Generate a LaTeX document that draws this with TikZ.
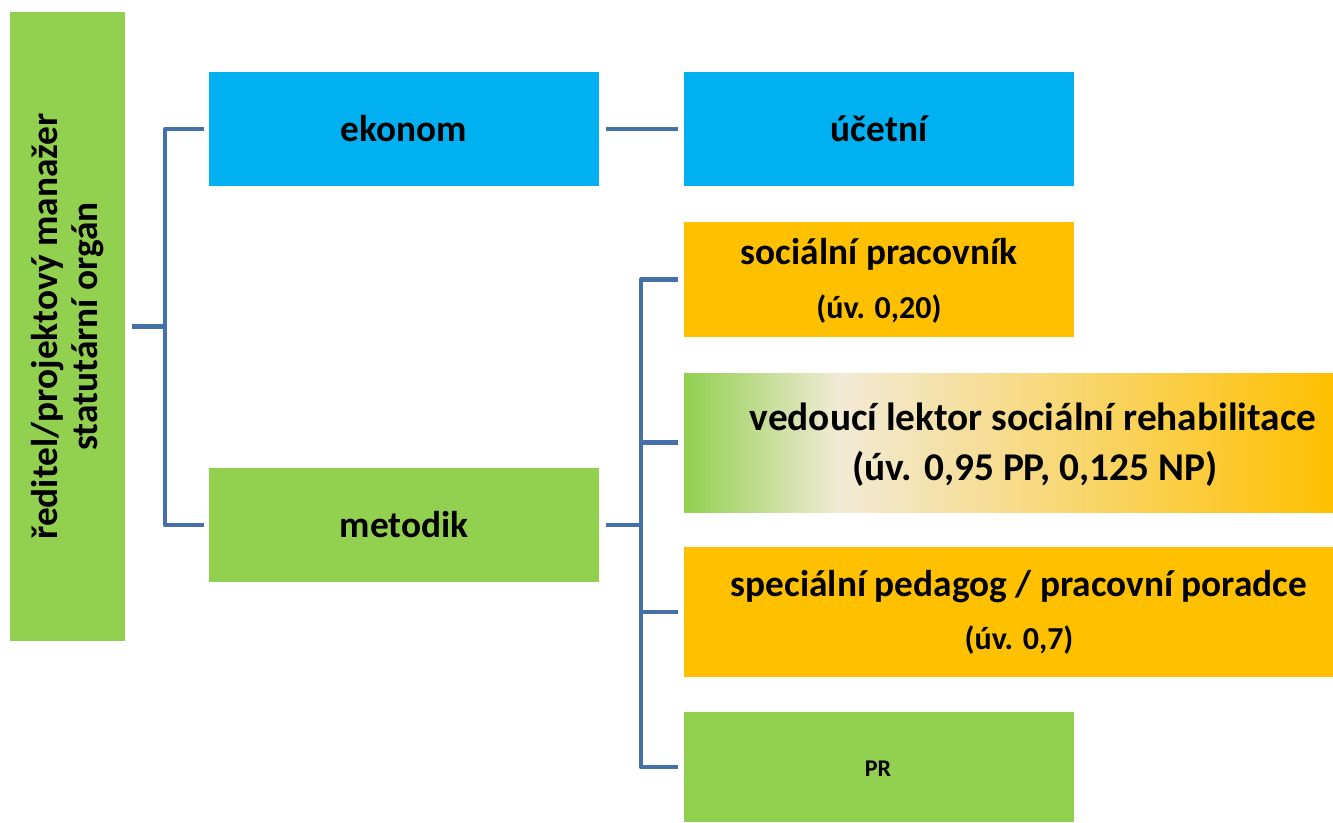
\documentclass[tikz,border=0pt]{standalone}
\usepackage{fontspec}
\setmainfont{Carlito}
\usetikzlibrary{calc}
\definecolor{grn}{HTML}{92D050}
\definecolor{blu}{HTML}{00B0F0}
\definecolor{org}{HTML}{FFC000}
\definecolor{crm}{HTML}{F2EAD6}
\definecolor{lin}{RGB}{70,112,168}
\pgfdeclarehorizontalshading{vgrad}{100bp}{color(0bp)=(grn); color(25bp)=(grn); color(37bp)=(crm); color(75bp)=(org); color(100bp)=(org)}
\begin{document}
\begin{tikzpicture}[x=0.75pt,y=-0.75pt,
  rbox/.style 2 args={rectangle, inner sep=0pt, outer sep=0pt, minimum width=#1*0.75pt, minimum height=#2*0.75pt},
  big/.style={font=\fontsize{28}{30}\selectfont\bfseries},
  vbig/.style={font=\fontsize{29.5}{32}\selectfont\bfseries},
  small/.style={font=\fontsize{24}{28}\selectfont\bfseries},
  conn/.style={draw=lin, line width=3.5pt, line join=round},
  txt/.style={inner sep=0pt, align=center}]
\useasboundingbox (0,0) rectangle (1333,822);
% boxes
\node[rbox={115}{629}, fill=grn] (dir) at (67.5,326.5) {};
\node[rbox={390}{114}, fill=blu] (eko) at (404,129) {};
\node[rbox={390}{114}, fill=blu] (uce) at (879,129) {};
\node[rbox={390}{114}, fill=grn] (met) at (404,525) {};
\node[rbox={390}{115}, fill=org] (soc) at (879,279.5) {};
\node[rbox={649}{139}, shading=vgrad] (ved) at (1008.5,442.5) {};
\node[rbox={649}{130}, fill=org] (spe) at (1008.5,612) {};
\node[rbox={390}{110}, fill=grn] (pr) at (879,767) {};
% texts
\node[txt, big, rotate=90] (dirT) at (dir.center) {ředitel/projektový manažer\\statutární orgán};
\node[txt, big] (ekoT) at (eko.center) {ekonom};
\node[txt, big] (uceT) at (uce.center) {účetní};
\node[txt, big] (metT) at (met.center) {metodik};
\node[txt, big] (socT) at (879,254) {sociální pracovník};
\node[txt, small] (socT2) at (879,309) {(úv. 0,20)};
\node[txt, vbig] (vedT) at (1033,417) {vedoucí lektor sociální rehabilitace};
\node[txt, vbig] (vedT2) at (1035,469) {(úv. 0,95 PP, 0,125 NP)};
\node[txt, big] (speT) at (1019,587) {speciální pedagog / pracovní poradce};
\node[txt, small] (speT2) at (1019,640) {(úv. 0,7)};
\node[txt, font=\fontsize{18}{20}\selectfont\bfseries] (prT) at (878,769) {PR};
% connectors
\coordinate (bus1) at (165,0);
\coordinate (bus2) at (641,0);
\draw[conn] ($(eko.west)+(-5,0)$) -| (bus1 |- dir.east) |- ($(met.west)+(-5,0)$);
\draw[conn] ($(dir.east)+(7,0)$) -- (bus1 |- dir.east);
\draw[conn] ($(eko.east)+(7,0)$) -- ($(uce.west)+(-6,0)$);
\draw[conn] ($(soc.west)+(-6,0)$) -| (bus2 |- pr.west) -- ($(pr.west)+(-6,0)$);
\draw[conn] (bus2 |- ved.west) -- ($(ved.west)+(-6,0)$);
\draw[conn] (bus2 |- spe.west) -- ($(spe.west)+(-6,0)$);
\draw[conn] ($(met.east)+(7,0)$) -- (bus2 |- met.east);
\end{tikzpicture}
\end{document}
